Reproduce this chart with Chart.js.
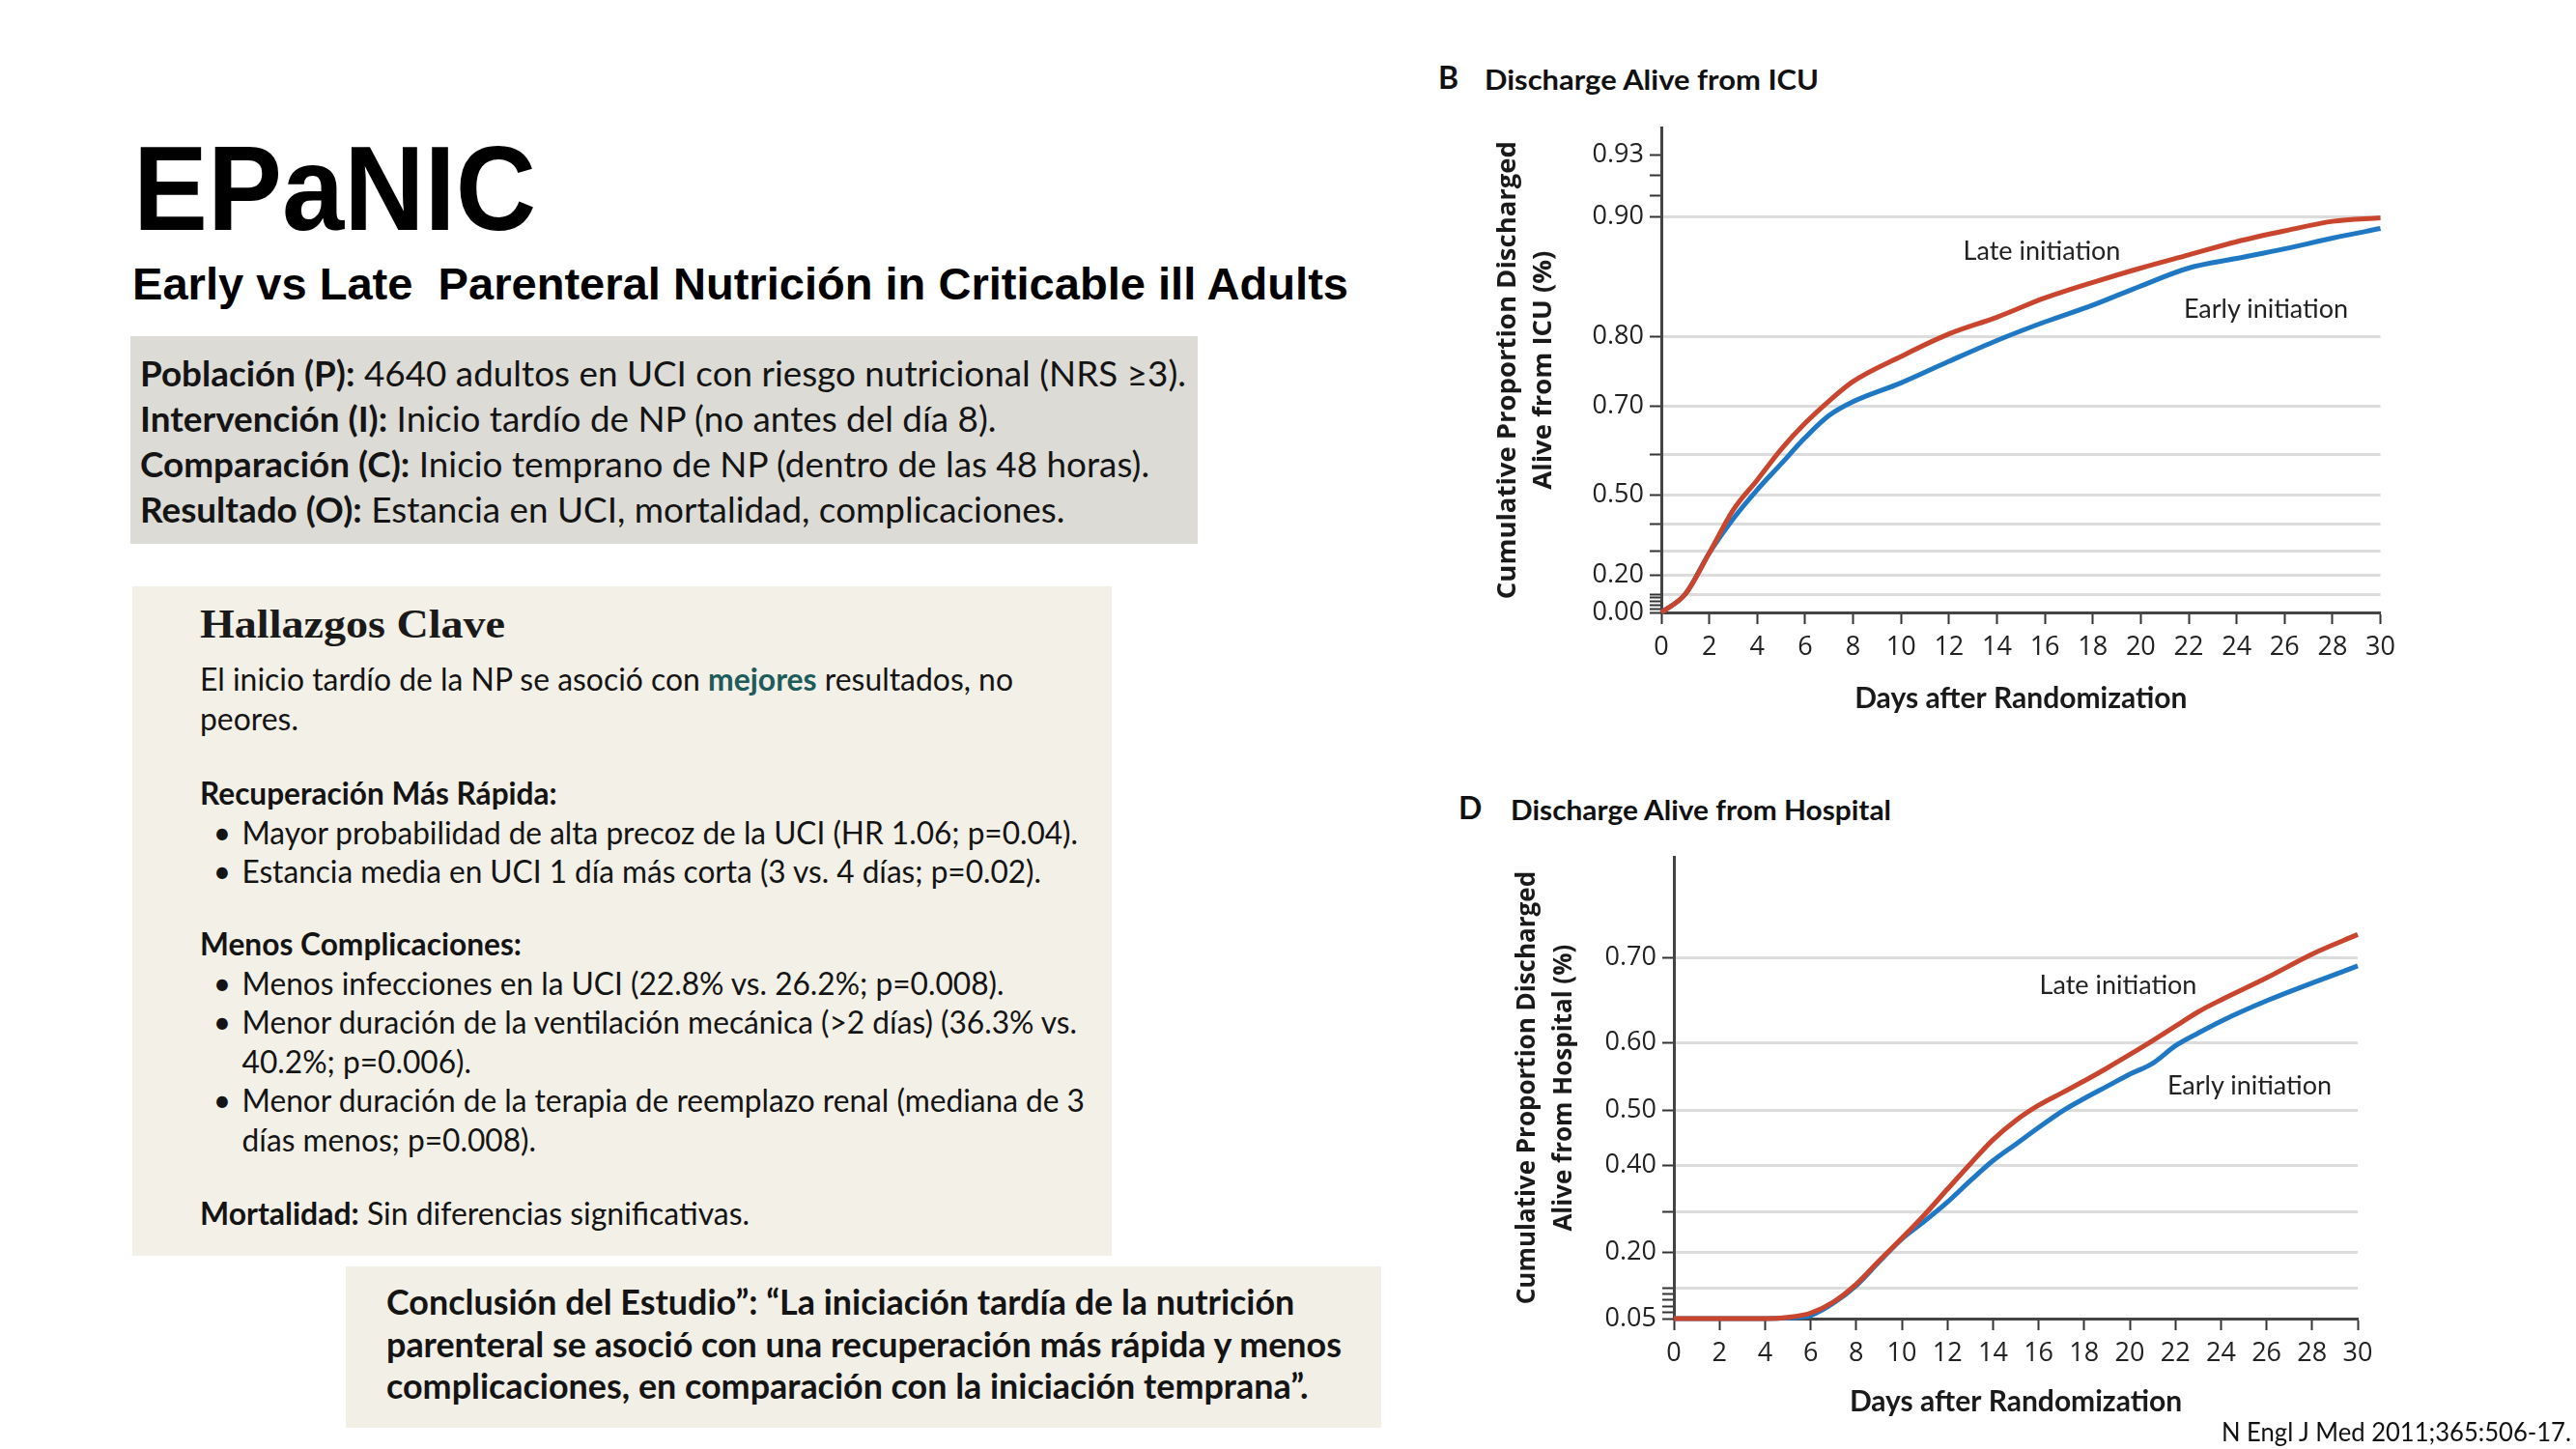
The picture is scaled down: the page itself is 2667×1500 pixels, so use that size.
<!DOCTYPE html>
<html lang="es">
<head>
<meta charset="utf-8">
<title>EPaNIC</title>
<script src="https://cdn.jsdelivr.net/npm/chart.js@4.4.1/dist/chart.umd.min.js"></script>
<style>
  html, body { margin: 0; padding: 0; background: #fff; }
  #page { position: relative; width: 2667px; height: 1500px; overflow: hidden; font-family: Lato, sans-serif; color: #141414; }
  .abs { position: absolute; white-space: nowrap; }
  .box { position: absolute; }
  .fit { display: inline-block; transform-origin: 0 0; }
  .li { position: relative; padding-left: 44px; }
  .dot { position: absolute; left: 14px; }
  .plot { position: absolute; }
  .note { position: absolute; font: 400 27px Lato, sans-serif; color: #222; white-space: nowrap; transform: translate(-50%, -50%); }
</style>
</head>
<body>
<div id="page">
  <div class="abs" style="left:138px; top:125px; font:700 124px/140px 'Liberation Sans', Arial, sans-serif; color:#000;"><span class="fit" data-w="417">EPaNIC</span></div>
  <div class="abs" style="left:137px; top:267px; font:700 46px/55px 'Liberation Sans', Arial, sans-serif; color:#000;"><span class="fit" data-w="1259">Early vs Late&nbsp; Parenteral Nutrición in Criticable ill Adults</span></div>

  <div class="box" style="left:135px; top:348px; width:1105px; height:215px; background:#dcdbd6;"></div>
  <div class="abs" style="left:145px; top:363px; font-size:36px; line-height:47px;"><span class="fit" data-w="1083"><b>Población (P):</b> 4640 adultos en UCI con riesgo nutricional (NRS ≥3).<br><b>Intervención (I):</b> Inicio tardío de NP (no antes del día 8).<br><b>Comparación (C):</b> Inicio temprano de NP (dentro de las 48 horas).<br><b>Resultado (O):</b> Estancia en UCI, mortalidad, complicaciones.</span></div>

  <div class="box" style="left:137px; top:607px; width:1014px; height:693px; background:#f3f0e7;"></div>
  <div class="abs" style="left:207px; top:621px; font:700 42px/50px 'Liberation Serif', serif; color:#1a1a1a;"><span class="fit" data-w="316">Hallazgos Clave</span></div>
  <div class="abs" style="left:207px; top:683px; font-size:32px; line-height:40.5px;"><span class="fit" data-w="842">El inicio tardío de la NP se asoció con <b style="color:#1d5c5a;">mejores</b> resultados, no<br>peores.</span></div>
  <div class="abs" style="left:207px; top:801px; font-size:32px; line-height:40.5px;"><span class="fit" data-w="909"><b>Recuperación Más Rápida:</b><div class="li"><span class="dot">•</span>Mayor probabilidad de alta precoz de la UCI (HR 1.06; p=0.04).</div><div class="li"><span class="dot">•</span>Estancia media en UCI 1 día más corta (3 vs. 4 días; p=0.02).</div></span></div>
  <div class="abs" style="left:207px; top:957px; font-size:32px; line-height:40.5px;"><span class="fit" data-w="916"><b>Menos Complicaciones:</b><div class="li"><span class="dot">•</span>Menos infecciones en la UCI (22.8% vs. 26.2%; p=0.008).</div><div class="li"><span class="dot">•</span>Menor duración de la ventilación mecánica (&gt;2 días) (36.3% vs.<br>40.2%; p=0.006).</div><div class="li"><span class="dot">•</span>Menor duración de la terapia de reemplazo renal (mediana de 3<br>días menos; p=0.008).</div></span></div>
  <div class="abs" style="left:207px; top:1236px; font-size:32px; line-height:40.5px;"><span class="fit" data-w="569"><b>Mortalidad:</b> Sin diferencias significativas.</span></div>

  <div class="box" style="left:358px; top:1311px; width:1072px; height:167px; background:#f2efe6;"></div>
  <div class="abs" style="left:400px; top:1325px; font:700 37px/43.5px Lato, sans-serif;"><span class="fit" data-w="989">Conclusión del Estudio”: “La iniciación tardía de la nutrición<br>parenteral se asoció con una recuperación más rápida y menos<br>complicaciones, en comparación con la iniciación temprana”.</span></div>

  <div class="abs" style="left:1489px; top:60px; font:700 32px/40px Lato, sans-serif; color:#111;">B</div>
  <div class="abs" style="left:1537px; top:62px; font:700 28px/40px Lato, sans-serif; color:#111;"><span class="fit" data-w="346">Discharge Alive from ICU</span></div>
  <div class="abs" style="left:1510px; top:816px; font:700 32px/40px Lato, sans-serif; color:#111;">D</div>
  <div class="abs" style="left:1564px; top:818px; font:700 28px/40px Lato, sans-serif; color:#111;"><span class="fit" data-w="394">Discharge Alive from Hospital</span></div>

  <div class="plot" style="left:1478px; top:110px; width:1010px; height:640px;"><canvas id="chartICU"></canvas></div>
  <div class="plot" style="left:1490px; top:865px; width:990px; height:610px;"><canvas id="chartHosp"></canvas></div>

  <div class="note" style="left:2114px; top:258px;">Late initiation</div>
  <div class="note" style="left:2346px; top:318px;">Early initiation</div>
  <div class="note" style="left:2193px; top:1018px;">Late initiation</div>
  <div class="note" style="left:2329px; top:1122px;">Early initiation</div>

  <div class="abs" style="left:2300px; top:1464px; font:400 27px/36px Lato, sans-serif; color:#111;"><span class="fit" data-w="362">N Engl J Med 2011;365:506-17.</span></div>
</div>

<script>
// panel B - discharge alive from ICU
const daysICU = [0, 1, 2, 3, 4, 5, 6, 7, 8, 10, 12, 14, 16, 18, 20, 22, 24, 26, 28, 30];
const lateICU = [0.00, 0.10, 0.29, 0.447, 0.536, 0.61, 0.664, 0.707, 0.735, 0.771, 0.802, 0.816, 0.832, 0.845, 0.857, 0.868, 0.879, 0.888, 0.896, 0.899];
const earlyICU = [0.00, 0.10, 0.29, 0.417, 0.512, 0.576, 0.634, 0.68, 0.706, 0.733, 0.764, 0.794, 0.812, 0.826, 0.842, 0.857, 0.865, 0.873, 0.882, 0.89];
const icuTicks = [0, 0.02, 0.04, 0.06, 0.08, 0.1, 0.2, 0.3, 0.4, 0.5, 0.6, 0.7, 0.8, 0.9, 0.91, 0.92, 0.93];
const icuTickLabels = [0, 0.2, 0.5, 0.7, 0.8, 0.9, 0.93];
const icuGrid = [0.1, 0.2, 0.3, 0.4, 0.5, 0.6, 0.7, 0.8, 0.9];

// panel D - discharge alive from hospital
const daysHosp = [0, 2, 4, 5, 6, 7, 8, 9, 10, 11, 12, 13, 14, 15, 16, 17, 18, 19, 20, 21, 22, 23, 24, 26, 28, 30];
const lateHosp = [0.05, 0.05, 0.05, 0.052, 0.059, 0.077, 0.11, 0.175, 0.234, 0.292, 0.348, 0.402, 0.446, 0.481, 0.507, 0.525, 0.543, 0.562, 0.582, 0.602, 0.619, 0.636, 0.65, 0.676, 0.704, 0.727];
const earlyHosp = [0.05, 0.05, 0.05, 0.051, 0.055, 0.075, 0.106, 0.172, 0.232, 0.276, 0.32, 0.366, 0.408, 0.438, 0.468, 0.497, 0.517, 0.535, 0.553, 0.569, 0.595, 0.611, 0.625, 0.649, 0.67, 0.69];
const hospTicks = [0.05, 0.06, 0.07, 0.08, 0.09, 0.1, 0.2, 0.3, 0.4, 0.5, 0.6, 0.7];
const hospTickLabels = [0.05, 0.2, 0.4, 0.5, 0.6, 0.7];
const hospGrid = [0.1, 0.2, 0.3, 0.4, 0.5, 0.6, 0.7];

const dayTicks = [0, 2, 4, 6, 8, 10, 12, 14, 16, 18, 20, 22, 24, 26, 28, 30];

const RED = '#c9452d';
const BLUE = '#1f78c3';

// the original figure has an uneven y axis, so map values through knots
class KnotScale extends Chart.LinearScale {
  static id = 'knot';
  static defaults = Chart.LinearScale.defaults;

  buildTicks() {
    this.start = this.min;
    this.end = this.max;
    return this.options.tickValues.map(v => ({ value: v }));
  }

  toFraction(v) {
    const k = this.options.knots;
    if (v <= k[0][0]) return k[0][1];
    for (let i = 1; i < k.length; i++) {
      if (v <= k[i][0]) {
        const a = k[i - 1], b = k[i];
        return a[1] + (v - a[0]) / (b[0] - a[0]) * (b[1] - a[1]);
      }
    }
    return k[k.length - 1][1];
  }

  getPixelForValue(v) {
    return this.getPixelForDecimal(this.toFraction(v));
  }

  getValueForPixel(p) {
    const f = this.getDecimalForPixel(p);
    const k = this.options.knots;
    for (let i = 1; i < k.length; i++) {
      if (f <= k[i][1]) {
        const a = k[i - 1], b = k[i];
        return a[0] + (f - a[1]) / (b[1] - a[1]) * (b[0] - a[0]);
      }
    }
    return k[k.length - 1][0];
  }
}
Chart.register(KnotScale);

Chart.defaults.font.family = "'Open Sans', sans-serif";
Chart.defaults.color = '#222';

function pairs(xs, ys) {
  return xs.map((x, i) => ({ x: x, y: ys[i] }));
}

function survivalChart(id, c) {
  return new Chart(document.getElementById(id), {
    type: 'line',
    data: {
      datasets: [
        { label: 'Late initiation', data: pairs(c.days, c.late), borderColor: RED, borderWidth: 5, pointRadius: 0, cubicInterpolationMode: 'monotone', clip: 10 },
        { label: 'Early initiation', data: pairs(c.days, c.early), borderColor: BLUE, borderWidth: 5, pointRadius: 0, cubicInterpolationMode: 'monotone', clip: 10 }
      ]
    },
    options: {
      responsive: true,
      maintainAspectRatio: false,
      animation: false,
      events: [],
      layout: { padding: { top: 22, right: c.padRight, bottom: 0, left: 0 } },
      plugins: { legend: { display: false }, tooltip: { enabled: false } },
      scales: {
        x: {
          type: 'linear',
          min: 0,
          max: 30,
          afterBuildTicks: s => { s.ticks = dayTicks.map(v => ({ value: v })); },
          afterFit: s => { s.height = c.xHeight; },
          ticks: { autoSkip: false, maxRotation: 0, padding: 8, font: { size: 27 }, color: '#222' },
          grid: { drawOnChartArea: false, drawTicks: true, tickLength: 12, tickColor: '#333', tickWidth: 2 },
          border: { display: true, color: '#444', width: 3 },
          title: { display: true, text: 'Days after Randomization', color: '#1a1a1a', font: { family: 'Lato', weight: 'bold', size: 30 }, padding: { top: 0, bottom: c.xTitlePad } }
        },
        y: {
          type: 'knot',
          min: c.min,
          max: c.max,
          knots: c.knots,
          tickValues: c.ticks,
          afterFit: s => { s.width = c.yWidth; },
          ticks: {
            autoSkip: false,
            padding: 6,
            font: { size: 27 },
            color: '#222',
            callback: v => c.labels.includes(v) ? v.toFixed(2) : ''
          },
          grid: {
            color: ctx => (ctx.tick && c.grid.includes(ctx.tick.value)) ? '#dcdcdc' : 'rgba(0,0,0,0)',
            lineWidth: 3,
            tickLength: 12,
            tickColor: '#333',
            tickWidth: 2
          },
          border: { display: true, color: '#444', width: 3 },
          title: { display: true, text: c.yTitle, color: '#1a1a1a', font: { weight: 'bold', size: c.yTitleSize, lineHeight: c.yTitleLh }, padding: { top: c.yTitlePad, bottom: 0 } }
        }
      }
    }
  });
}

function fitText() {
  document.querySelectorAll('.fit').forEach(el => {
    el.style.transform = 'none';
    const w = el.getBoundingClientRect().width;
    el.style.transform = 'scaleX(' + (Number(el.dataset.w) / w) + ')';
  });
}

function draw() {
  fitText();
  survivalChart('chartICU', {
    days: daysICU, late: lateICU, early: earlyICU,
    min: 0, max: 0.943,
    knots: [[0, 0], [0.1, 0.0378], [0.2, 0.0777], [0.3, 0.1275], [0.4, 0.1833], [0.5, 0.243], [0.6, 0.3267], [0.7, 0.4263], [0.8, 0.5697], [0.9, 0.8167], [0.93, 0.9442], [0.943, 1]],
    ticks: icuTicks, labels: icuTickLabels, grid: icuGrid,
    yTitle: ['Cumulative Proportion Discharged', 'Alive from ICU (%)'],
    yTitleSize: 27.5, yTitleLh: 1.37,
    yWidth: 242, xHeight: 116, padRight: 23, xTitlePad: 9, yTitlePad: 64
  });
  survivalChart('chartHosp', {
    days: daysHosp, late: lateHosp, early: earlyHosp,
    min: 0.05, max: 0.818,
    knots: [[0.05, 0], [0.1, 0.0669], [0.2, 0.1444], [0.3, 0.2322], [0.4, 0.3326], [0.5, 0.4519], [0.6, 0.5983], [0.7, 0.7824], [0.818, 1]],
    ticks: hospTicks, labels: hospTickLabels, grid: hospGrid,
    yTitle: ['Cumulative Proportion Discharged', 'Alive from Hospital (%)'],
    yTitleSize: 26, yTitleLh: 1.45,
    yWidth: 243, xHeight: 110, padRight: 39, xTitlePad: 6, yTitlePad: 73
  });
}

if (document.fonts && document.fonts.ready) {
  document.fonts.ready.then(draw);
} else {
  draw();
}
</script>
</body>
</html>
